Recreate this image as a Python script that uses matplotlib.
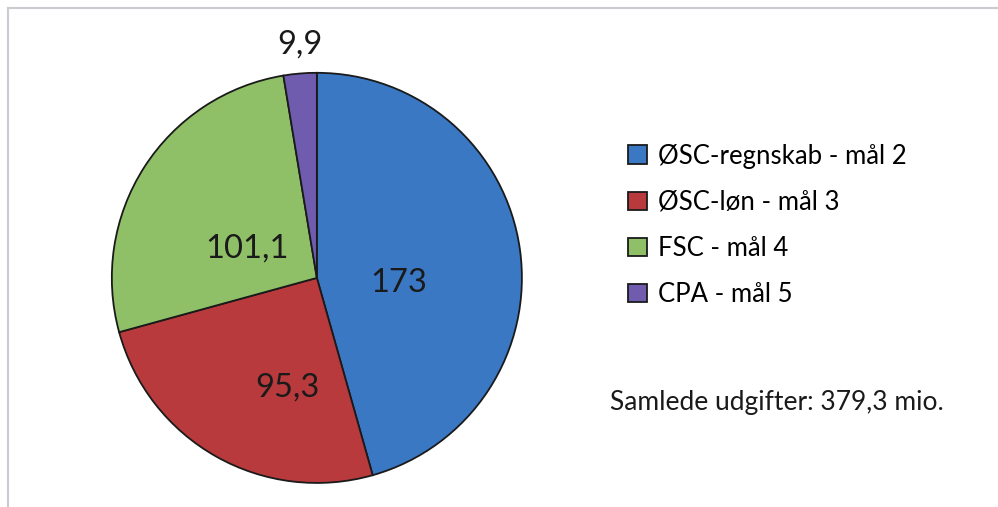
import matplotlib
matplotlib.use("Agg")
import matplotlib.pyplot as plt
from matplotlib.lines import Line2D
import numpy as np

categories = ["ØSC-regnskab - mål 2", "ØSC-løn - mål 3", "FSC - mål 4", "CPA - mål 5"]
values = [173, 95.3, 101.1, 9.9]
value_labels = ["173", "95,3", "101,1", "9,9"]
total_text = "Samlede udgifter: 379,3 mio."
colors = ["#3a78c4", "#b83a3c", "#8fc067", "#6f5cae"]

plt.rcParams['font.family'] = ['Lato', 'DejaVu Sans']

fig = plt.figure(figsize=(9.98, 5.07), dpi=100)
fig.patch.set_facecolor("white")

ax = fig.add_axes([0.110, 0.0434, 0.415, 0.817])
wedges, _ = ax.pie(values, colors=colors, startangle=90, counterclock=False,
                   radius=1.0, wedgeprops=dict(edgecolor="#1a1a1a", linewidth=1.3))
ax.set_xlim(-1.01, 1.01)
ax.set_ylim(-1.01, 1.01)
ax.set_aspect("auto")
ax.axis("off")

# label positions (data coords) tuned to reference layout
label_pos = [(0.40, -0.024), (-0.145, -0.536), (-0.343, 0.145), (-0.082, 1.14)]
for (x, y), t in zip(label_pos, value_labels):
    ax.text(x, y, t, ha="center", va="center", fontsize=23.5, color="#1a1a1a",
            clip_on=False)

leg = fig.legend(wedges, categories, loc="upper left",
                 bbox_to_anchor=(0.619, 0.737), frameon=False,
                 fontsize=18.5, handlelength=0.72, handleheight=0.72,
                 handletextpad=0.45, labelspacing=0.82, borderaxespad=0)

fig.text(0.611, 0.207, total_text, fontsize=19, color="#1a1a1a",
         ha="left", va="center")

# border lines of original frame
fig.add_artist(Line2D([8/998, 1.0], [1 - 8/507, 1 - 8/507],
                      transform=fig.transFigure, color="#c8ccd0", linewidth=1.5))
fig.add_artist(Line2D([8/998, 8/998], [0, 1 - 8/507],
                      transform=fig.transFigure, color="#c8ccd0", linewidth=1.5))

fig.savefig("out.png", dpi=100, facecolor="white")
